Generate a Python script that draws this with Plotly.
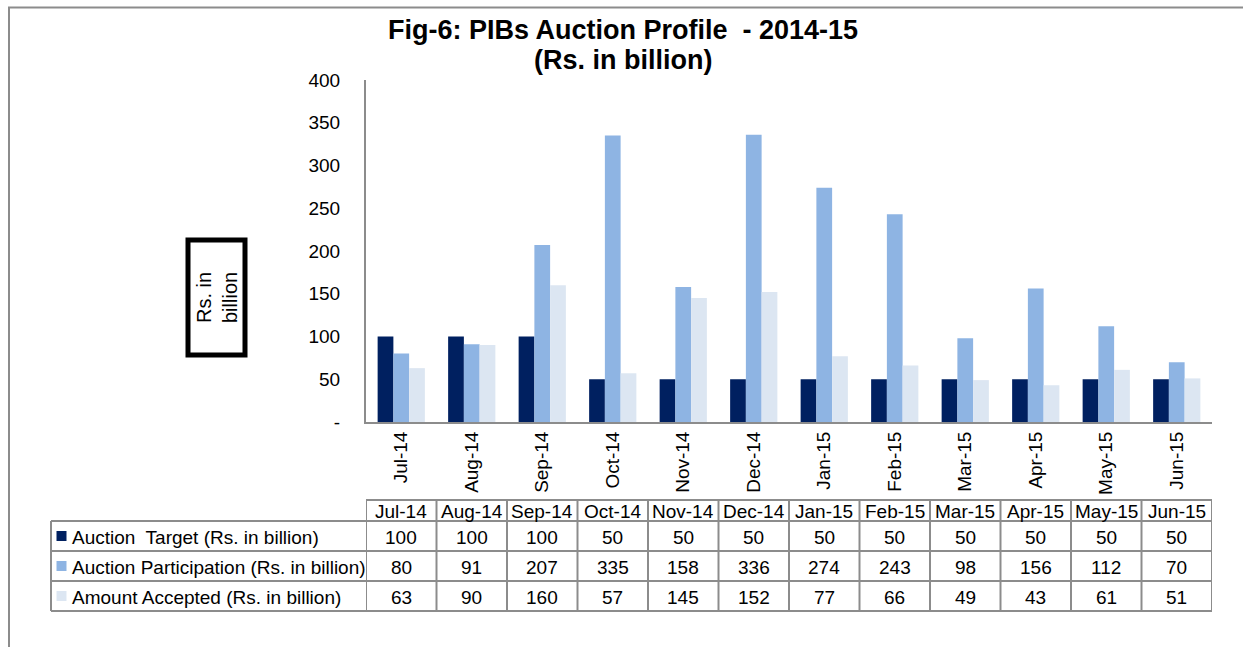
import plotly.graph_objects as go

months = ["Jul-14", "Aug-14", "Sep-14", "Oct-14", "Nov-14", "Dec-14",
          "Jan-15", "Feb-15", "Mar-15", "Apr-15", "May-15", "Jun-15"]
target = [100, 100, 100, 50, 50, 50, 50, 50, 50, 50, 50, 50]
participation = [80, 91, 207, 335, 158, 336, 274, 243, 98, 156, 112, 70]
accepted = [63, 90, 160, 57, 145, 152, 77, 66, 49, 43, 61, 51]

series_names = ["Auction\u00a0 Target (Rs. in billion)",
                "Auction Participation (Rs. in billion)",
                "Amount Accepted (Rs. in billion)"]
series_values = [target, participation, accepted]
colors = ["#002060", "#8EB4E3", "#DCE6F2"]

W, H = 1243, 647
L, R, T, B = 366, 31, 80, 225
pw, ph = W - L - R, H - T - B

def px(xp):
    return (xp - L) / pw

def py(yp):
    return (H - B - yp) / ph

FONT = "Liberation Sans, Arial, sans-serif"
GRID = "#8c8c8c"
FS = 19

fig = go.Figure()
for name, vals, c in zip(series_names, series_values, colors):
    fig.add_trace(go.Bar(x=months, y=vals, name=name, marker_color=c,
                         marker_line_width=0, showlegend=False))

shapes = []
annotations = []

def ann(**kw):
    d = dict(showarrow=False, xanchor="center", yanchor="middle")
    d.update(kw)
    annotations.append(d)

# outer frame
shapes.append(dict(type="rect", xref="paper", yref="paper",
                   x0=px(9), x1=px(1260), y0=py(7.5), y1=py(670),
                   line=dict(color=GRID, width=2)))

# y-title box
shapes.append(dict(type="rect", xref="paper", yref="paper",
                   x0=px(188), x1=px(245), y0=py(240), y1=py(355),
                   line=dict(color="black", width=5)))
ann(text="Rs. in<br>billion", xref="paper", yref="paper",
    x=px(216.5), y=py(297.5), textangle=-90,
    font=dict(size=20, color="black", family=FONT))

# title
ann(text="<b>Fig-6: PIBs Auction Profile\u00a0 - 2014-15</b>",
    xref="paper", yref="paper", x=px(623), y=py(30),
    font=dict(size=27, color="black", family=FONT))
ann(text="<b>(Rs. in billion)</b>",
    xref="paper", yref="paper", x=px(623), y=py(60),
    font=dict(size=27, color="black", family=FONT))

# data table
hdr_top, r1_top, r2_top, r3_top, bot = 500, 521, 551, 581, 611
row_tops = [r1_top, r2_top, r3_top]
row_bots = [r2_top, r3_top, bot]
left_x = 51
line = dict(color=GRID, width=2)

shapes.append(dict(type="line", xref="paper", yref="paper", x0=0, x1=1,
                   y0=py(hdr_top), y1=py(hdr_top), line=line))
for yy in [r1_top, r2_top, r3_top, bot]:
    shapes.append(dict(type="line", xref="paper", yref="paper", x0=px(left_x), x1=1,
                       y0=py(yy), y1=py(yy), line=line))
for i in range(len(months) + 1):
    shapes.append(dict(type="line", xref="x", yref="paper", x0=i - 0.5, x1=i - 0.5,
                       y0=py(hdr_top), y1=py(bot), line=line))
shapes.append(dict(type="line", xref="paper", yref="paper", x0=px(left_x), x1=px(left_x),
                   y0=py(r1_top), y1=py(bot), line=line))

tfont = dict(size=FS, color="black", family=FONT)
for i, m in enumerate(months):
    ann(text=m, xref="x", yref="paper", x=i, y=py((hdr_top + r1_top) / 2 + 1), font=tfont)
for r, (name, vals, c) in enumerate(zip(series_names, series_values, colors)):
    yc = (row_tops[r] + row_bots[r]) / 2
    shapes.append(dict(type="rect", xref="paper", yref="paper",
                       x0=px(56.5), x1=px(66.5), y0=py(yc - 5), y1=py(yc + 5),
                       fillcolor=c, line=dict(width=0)))
    ann(text=name, xref="paper", yref="paper", x=px(70), y=py(yc + 1),
        xanchor="left", font=tfont)
    for i, v in enumerate(vals):
        ann(text=str(v), xref="x", yref="paper", x=i, y=py(yc + 1), font=tfont)

fig.update_layout(
    width=W, height=H,
    margin=dict(l=L, r=R, t=T, b=B, autoexpand=False),
    paper_bgcolor="white", plot_bgcolor="white",
    barmode="group", bargap=0.33, bargroupgap=0,
    font=dict(family=FONT, size=FS, color="black"),
    shapes=shapes, annotations=annotations,
    xaxis=dict(type="category", categoryorder="array", categoryarray=months,
               tickangle=-90, showline=True, linecolor=GRID, linewidth=2,
               showgrid=False, ticks="", tickfont=dict(size=FS, color="black"),
               range=[-0.5, len(months) - 0.5]),
    yaxis=dict(range=[0, 400], tickvals=[0, 50, 100, 150, 200, 250, 300, 350, 400],
               ticktext=["-", "50", "100", "150", "200", "250", "300", "350", "400"],
               showline=True, linecolor=GRID, linewidth=2, showgrid=False,
               zeroline=False, ticks="", ticklabelstandoff=20,
               tickfont=dict(size=FS, color="black")),
)

fig.write_html("out.html", config={"displayModeBar": False},
               post_script="document.body.style.margin='0';document.body.style.overflow='hidden';")
